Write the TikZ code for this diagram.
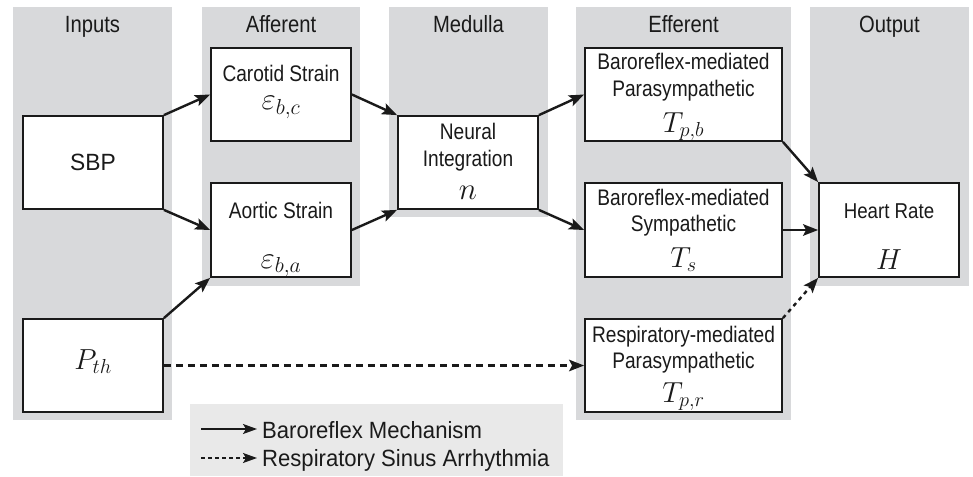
\RequirePackage{fix-cm}
\documentclass[tikz,border=0pt]{standalone}
\usepackage[no-math]{fontspec}
\setmainfont{Liberation Sans}
\newfontfamily\boxfont[FakeStretch=0.85]{Liberation Sans}
\newfontfamily\hrfont[FakeStretch=0.87]{Liberation Sans}
\newfontfamily\sbpfont[FakeStretch=0.97]{Liberation Sans}
\newfontfamily\headfont[FakeStretch=0.86]{Liberation Sans}
\newfontfamily\legfont[FakeStretch=0.94]{Liberation Sans}
\usetikzlibrary{arrows.meta}
\definecolor{colgray}{HTML}{D8D9DB}
\definecolor{leggray}{HTML}{E9E9E9}
\definecolor{ink}{HTML}{1A1A1A}
\begin{document}
\begin{tikzpicture}[x=1pt,y=-1pt,
  box/.style={draw=ink, fill=white, line width=1.8pt, inner sep=0pt},
  txt/.style={anchor=base, inner sep=0pt, text=ink, font=\boxfont\fontsize{22.5}{25}\selectfont},
  hrtxt/.style={anchor=base, inner sep=0pt, text=ink, font=\hrfont\fontsize{21.5}{25}\selectfont},
  sbptxt/.style={anchor=base, inner sep=0pt, text=ink, font=\sbpfont\fontsize{23.5}{26}\selectfont},
  head/.style={anchor=base, inner sep=0pt, text=ink, font=\headfont\fontsize{23.5}{26}\selectfont},
  mthbig/.style={anchor=base, inner sep=0pt, text=ink, font=\fontsize{31}{34}\selectfont},
  mth/.style={anchor=base, inner sep=0pt, text=ink, font=\fontsize{29}{32}\selectfont},
  leg/.style={anchor=base west, inner sep=0pt, text=ink, font=\legfont\fontsize{23.5}{26}\selectfont},
  arr/.style={-{Stealth[length=15pt,width=11.5pt,inset=3pt]}, line width=2.4pt, draw=ink},
  darr/.style={arr, dash pattern=on 7pt off 5pt},
  dotarr/.style={arr, dash pattern=on 4pt off 4pt},
  legarr/.style={-{Stealth[length=14pt,width=10pt,inset=3pt]}, line width=1.4pt, draw=ink},
  legdarr/.style={legarr, dash pattern=on 4pt off 3pt}
]
\useasboundingbox (0,0) rectangle (973,476);
% columns
\fill[colgray] (13,7) rectangle (172,420);
\fill[colgray] (202,7) rectangle (360,286);
\fill[colgray] (389,7) rectangle (548,217);
\fill[colgray] (576,7) rectangle (791,420);
\fill[colgray] (810,7) rectangle (969,286);
\fill[leggray] (190,404) rectangle (563,476);
% headers
\node[head] (hin) at (92.5,33) {Inputs};
\node[head] (haf) at (281,33) {Afferent};
\node[head] (hme) at (468.5,33) {Medulla};
\node[head] (hef) at (683.5,33) {Efferent};
\node[head] (hou) at (889.5,33) {Output};
% boxes
\node[box, minimum width=140pt, minimum height=93pt] (sbp) at (93,162.5) {};
\node[box, minimum width=140pt, minimum height=93pt] (pth) at (93,365.5) {};
\node[box, minimum width=140pt, minimum height=93pt] (car) at (281,94.5) {};
\node[box, minimum width=140pt, minimum height=94pt] (aor) at (281,230) {};
\node[box, minimum width=140pt, minimum height=93pt] (neu) at (468,162.5) {};
\node[box, minimum width=197pt, minimum height=93pt] (par) at (683.5,94.5) {};
\node[box, minimum width=197pt, minimum height=94pt] (sym) at (683.5,230) {};
\node[box, minimum width=197pt, minimum height=93pt] (res) at (683.5,365.5) {};
\node[box, minimum width=140pt, minimum height=94pt] (hr) at (889,230) {};
% texts
\node[sbptxt] (sbpt) at (93,170) {SBP};
\node[mth] (ptht) at (93,369) {$P_{th}$};
\node[txt] (cart) at (281,82) {Carotid Strain};
\node[mthbig] (carm) at (281,110) {$\varepsilon_{b,c}$};
\node[txt] (aort) at (281,218) {Aortic Strain};
\node[mthbig] (aorm) at (281,268) {$\varepsilon_{b,a}$};
\node[txt] (neut1) at (468,139) {Neural};
\node[txt] (neut2) at (468,166) {Integration};
\node[mthbig] (neum) at (468,199) {$n$};
\node[txt] (part1) at (683.5,70) {Baroreflex-mediated};
\node[txt] (part2) at (683.5,96) {Parasympathetic};
\node[mth] (parm) at (683.5,132) {$T_{p,b}$};
\node[txt] (symt1) at (683.5,205) {Baroreflex-mediated};
\node[txt] (symt2) at (683.5,231) {Sympathetic};
\node[mth] (symm) at (683.5,267) {$T_{s}$};
\node[txt] (rest1) at (683.5,342) {Respiratory-mediated};
\node[txt] (rest2) at (683.5,368) {Parasympathetic};
\node[mth] (resm) at (683.5,402) {$T_{p,r}$};
\node[hrtxt] (hrt) at (889,218) {Heart Rate};
\node[mth] (hrm) at (889,269) {$H$};
% connectors
\draw[arr] (sbp.north east) -- (car.west);
\draw[arr] (sbp.south east) -- (aor.west);
\draw[arr] (pth.north east) -- (aor.south west);
\draw[arr] (car.east) -- (neu.north west);
\draw[arr] (aor.east) -- (neu.south west);
\draw[arr] (neu.north east) -- (par.west);
\draw[arr] (neu.south east) -- (sym.west);
\draw[arr] (par.south east) -- (hr.north west);
\draw[arr] (sym.east) -- (hr.west);
\draw[dotarr] (res.north east) -- (hr.south west);
\draw[darr] (pth.east) -- (res.west);
% legend
\coordinate (la1) at (201,429);
\coordinate (lb1) at (257,429);
\coordinate (la2) at (201,458);
\coordinate (lb2) at (257,458);
\draw[legarr] (la1) -- (lb1);
\draw[legdarr] (la2) -- (lb2);
\node[leg] (lt1) at (262,438) {Baroreflex Mechanism};
\node[leg] (lt2) at (262,466) {Respiratory Sinus Arrhythmia};
\end{tikzpicture}
\end{document}
